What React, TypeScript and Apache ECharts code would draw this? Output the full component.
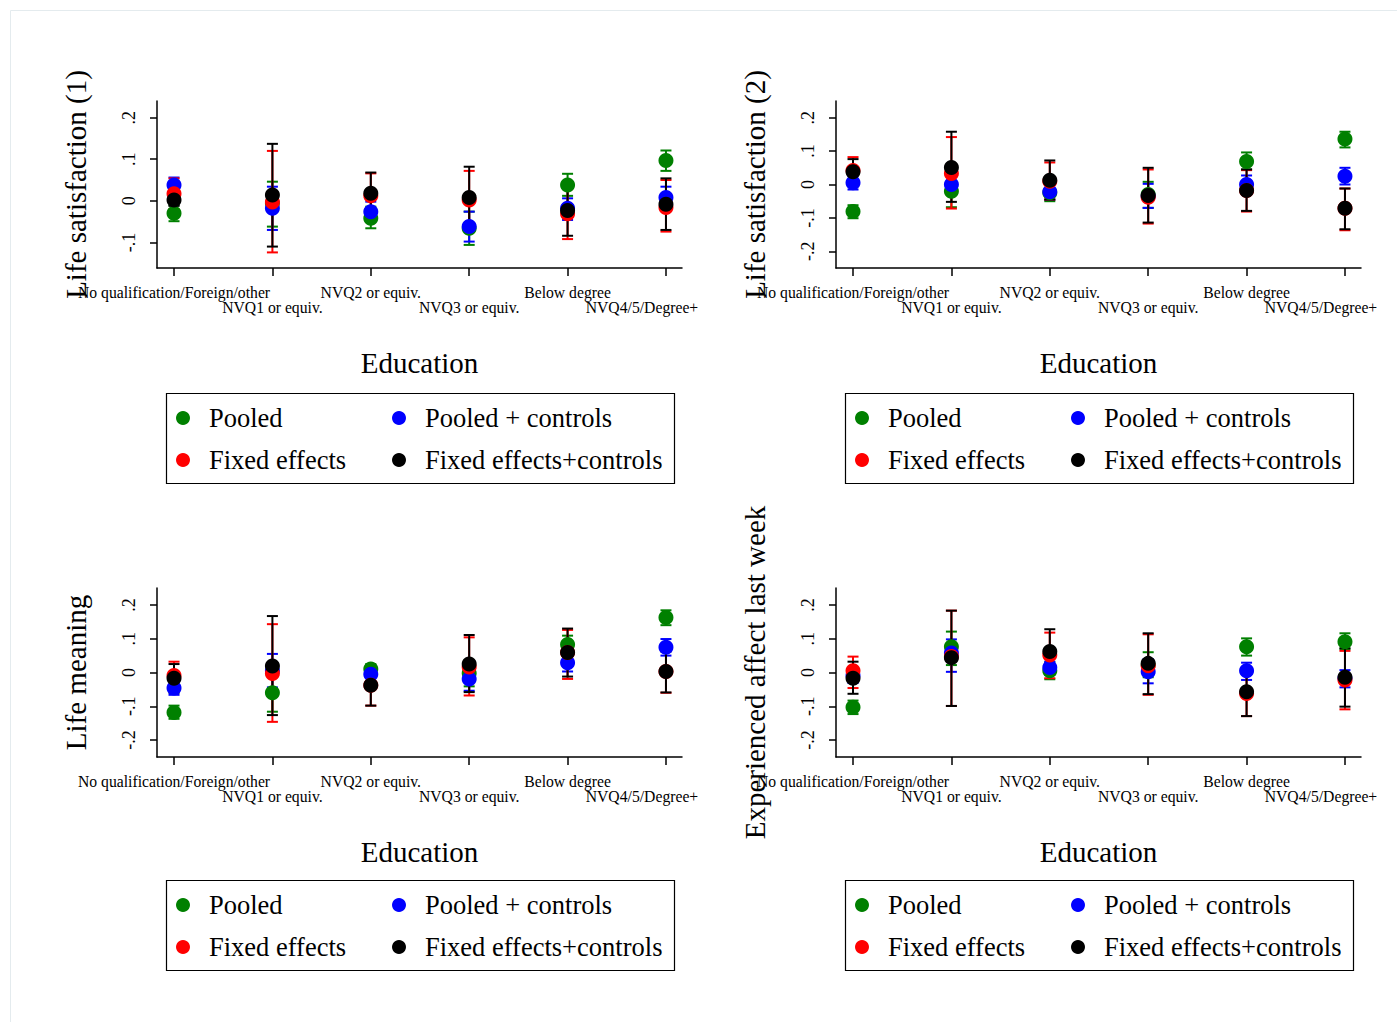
import React, { useEffect, useRef } from "react";
import * as echarts from "echarts";

// ---------- data ----------
const categories = [
  "No qualification/Foreign/other",
  "NVQ1 or equiv.",
  "NVQ2 or equiv.",
  "NVQ3 or equiv.",
  "Below degree",
  "NVQ4/5/Degree+",
];
const modelNames = ["Pooled", "Pooled + controls", "Fixed effects", "Fixed effects+controls"];
const modelColors = ["#008000", "#0000ff", "#ff0000", "#000000"];
const panelTitles = ["Life satisfaction (1)", "Life satisfaction (2)", "Life meaning", "Experienced affect last week"];
const xTitle = "Education";
const yTicksPanel1 = [-0.1, 0, 0.1, 0.2];
const yTicksOther = [-0.2, -0.1, 0, 0.1, 0.2];
const xTicksUpperRow = [0, 2, 4];
const xTicksLowerRow = [1, 3, 5];

// each entry: [estimate, lower CI, upper CI] per education category
const ls1Pooled = [[-0.03, -0.049, -0.011], [-0.006, -0.062, 0.046], [-0.042, -0.066, -0.014], [-0.066, -0.106, -0.026], [0.038, 0.012, 0.065], [0.097, 0.072, 0.121]];
const ls1PooledCtrl = [[0.038, 0.02, 0.056], [-0.018, -0.07, 0.034], [-0.026, -0.05, -0.002], [-0.062, -0.098, -0.026], [-0.018, -0.046, 0.006], [0.008, -0.018, 0.034]];
const ls1FE = [[0.017, -0.02, 0.054], [-0.003, -0.124, 0.12], [0.012, -0.04, 0.066], [0.002, -0.068, 0.072], [-0.031, -0.092, 0.028], [-0.016, -0.074, 0.05]];
const ls1FECtrl = [[0.002, -0.012, 0.016], [0.014, -0.11, 0.137], [0.018, -0.035, 0.068], [0.008, -0.058, 0.082], [-0.023, -0.084, 0.03], [-0.008, -0.07, 0.054]];

const ls2Pooled = [[-0.081, -0.101, -0.062], [-0.02, -0.068, 0.028], [-0.025, -0.05, 0.0], [-0.03, -0.07, 0.008], [0.069, 0.045, 0.096], [0.136, 0.111, 0.158]];
const ls2PooledCtrl = [[0.005, -0.015, 0.025], [0.0, -0.03, 0.03], [-0.022, -0.045, 0.001], [-0.035, -0.07, 0.002], [0.0, -0.027, 0.027], [0.025, 0.0, 0.05]];
const ls2FE = [[0.042, 0.002, 0.082], [0.033, -0.072, 0.142], [0.01, -0.045, 0.066], [-0.038, -0.117, 0.045], [-0.018, -0.081, 0.043], [-0.071, -0.137, -0.012]];
const ls2FECtrl = [[0.038, 0.0, 0.076], [0.051, -0.052, 0.158], [0.013, -0.045, 0.072], [-0.033, -0.114, 0.05], [-0.018, -0.079, 0.045], [-0.071, -0.134, -0.012]];

const meanPooled = [[-0.118, -0.137, -0.098], [-0.06, -0.116, -0.004], [0.01, -0.007, 0.025], [-0.002, -0.041, 0.037], [0.083, 0.058, 0.109], [0.163, 0.14, 0.184]];
const meanPooledCtrl = [[-0.046, -0.066, -0.026], [0.005, -0.044, 0.055], [-0.005, -0.026, 0.02], [-0.019, -0.054, 0.016], [0.029, 0.003, 0.055], [0.075, 0.05, 0.099]];
const meanFE = [[-0.009, -0.05, 0.032], [-0.003, -0.146, 0.143], [-0.038, -0.098, 0.02], [0.016, -0.068, 0.104], [0.059, -0.019, 0.126], [0.003, -0.06, 0.065]];
const meanFECtrl = [[-0.017, -0.06, 0.025], [0.019, -0.126, 0.167], [-0.038, -0.098, 0.02], [0.025, -0.058, 0.111], [0.059, -0.012, 0.13], [0.003, -0.059, 0.062]];

const affPooled = [[-0.103, -0.123, -0.083], [0.076, 0.022, 0.121], [0.005, -0.02, 0.03], [0.022, -0.014, 0.06], [0.076, 0.05, 0.101], [0.091, 0.069, 0.116]];
const affPooledCtrl = [[-0.009, -0.031, 0.013], [0.058, 0.002, 0.098], [0.015, -0.007, 0.032], [0.002, -0.032, 0.04], [0.005, -0.022, 0.029], [-0.017, -0.044, 0.007]];
const affFE = [[0.005, -0.046, 0.047], [0.047, -0.099, 0.183], [0.052, -0.017, 0.118], [0.02, -0.066, 0.113], [-0.062, -0.129, -0.005], [-0.022, -0.109, 0.064]];
const affFECtrl = [[-0.017, -0.063, 0.032], [0.044, -0.099, 0.183], [0.062, -0.005, 0.128], [0.027, -0.064, 0.116], [-0.057, -0.129, 0.01], [-0.014, -0.101, 0.072]];

const panelData = [
  [ls1Pooled, ls1PooledCtrl, ls1FE, ls1FECtrl],
  [ls2Pooled, ls2PooledCtrl, ls2FE, ls2FECtrl],
  [meanPooled, meanPooledCtrl, meanFE, meanFECtrl],
  [affPooled, affPooledCtrl, affFE, affFECtrl],
];

// ---------- layout ----------
const FONT = "'Liberation Serif', 'Times New Roman', serif";
const grids = [
  { left: 157, top: 101, width: 525, height: 167 },
  { left: 836, top: 101, width: 525, height: 167 },
  { left: 157, top: 588, width: 525, height: 169 },
  { left: 836, top: 588, width: 525, height: 169 },
];
const yRanges = [
  [-0.1615, 0.24],
  [-0.25, 0.25],
  [-0.25, 0.25],
  [-0.25, 0.25],
];
const legendBoxes = [
  { x: 166, y: 393 },
  { x: 845, y: 393 },
  { x: 166, y: 880 },
  { x: 845, y: 880 },
];

function fmtY(v: number) {
  const s = parseFloat(v.toFixed(2));
  if (s === 0) return "0";
  return (s < 0 ? "-" : "") + String(Math.abs(s)).replace(/^0/, "");
}

const X_FS = 15.7;

export default function App() {
  const ref = useRef<HTMLDivElement>(null);
  useEffect(() => {
    document.body.style.margin = "0";
    if (!ref.current) return;
    const chart = echarts.init(ref.current, null, { renderer: "svg" });

    const xAxes: any[] = [];
    const yAxes: any[] = [];
    const series: any[] = [];
    const legends: any[] = [];
    const graphics: any[] = [
      {
        type: "rect",
        shape: { x: 10.5, y: 10.5, width: 1400, height: 1030 },
        style: { fill: "none", stroke: "#e4ebee", lineWidth: 1 },
        silent: true,
      },
    ];

    const labelBase = {
      fontSize: X_FS,
      fontFamily: FONT,
      color: "#000",
      verticalAlign: "top",
      hideOverlap: false,
      formatter: (v: number) => {
        const idx = Math.round(v);
        const lab = categories[idx] ?? "";
        return idx === categories.length - 1 ? "{shift|" + lab + "}" : lab;
      },
      rich: {
        shift: { fontSize: X_FS, fontFamily: FONT, color: "#000", padding: [0, 48, 0, 0] },
      },
    };

    grids.forEach((g, i) => {
      const ticks = i === 0 ? yTicksPanel1 : yTicksOther;
      // main x axis: line, ticks, upper-row labels, title
      xAxes.push({
        gridIndex: i,
        type: "value",
        position: "bottom",
        min: -0.173,
        max: 5.163,
        name: xTitle,
        nameLocation: "middle",
        nameGap: 80,
        nameTextStyle: { fontSize: 29, fontFamily: FONT, color: "#000" },
        axisLine: { show: true, onZero: false, lineStyle: { color: "#000", width: 1.5 } },
        axisTick: { show: true, length: 8, customValues: [0, 1, 2, 3, 4, 5], lineStyle: { color: "#000", width: 1.5 } },
        axisLabel: { ...labelBase, customValues: xTicksUpperRow, margin: 16 },
        splitLine: { show: false },
      });
      // companion x axis: lower-row labels only
      xAxes.push({
        gridIndex: i,
        type: "value",
        position: "bottom",
        offset: 0,
        min: -0.173,
        max: 5.163,
        axisLine: { show: false, onZero: false },
        axisTick: { show: false },
        axisLabel: { ...labelBase, customValues: xTicksLowerRow, margin: 31 },
        splitLine: { show: false },
      });
      yAxes.push({
        gridIndex: i,
        type: "value",
        min: yRanges[i][0],
        max: yRanges[i][1],
        name: panelTitles[i],
        nameLocation: "middle",
        nameGap: 67,
        nameRotate: 90,
        nameTextStyle: { fontSize: 29, fontFamily: FONT, color: "#000" },
        axisLine: { show: true, onZero: false, lineStyle: { color: "#000", width: 1.5 } },
        axisTick: { show: true, length: 7, customValues: ticks, lineStyle: { color: "#000", width: 1.5 } },
        axisLabel: {
          customValues: ticks,
          rotate: 90,
          align: "center",
          verticalAlign: "bottom",
          margin: 19,
          fontSize: 18,
          fontFamily: FONT,
          color: "#000",
          formatter: (v: number) => fmtY(v),
        },
        splitLine: { show: false },
      });

      panelData[i].forEach((rows, m) => {
        const color = modelColors[m];
        series.push({
          type: "custom",
          name: modelNames[m] + " CI " + i,
          xAxisIndex: 2 * i,
          yAxisIndex: i,
          silent: true,
          data: rows.map((r, k) => [k, r[1], r[2]]),
          encode: { x: 0, y: [1, 2] },
          renderItem: (params: any, api: any) => {
            const x = api.value(0);
            const pLo = api.coord([x, api.value(1)]);
            const pHi = api.coord([x, api.value(2)]);
            const hw = 5.5;
            const style = { stroke: color, lineWidth: 2, fill: "none" };
            return {
              type: "group",
              children: [
                { type: "line", shape: { x1: pLo[0], y1: pLo[1], x2: pHi[0], y2: pHi[1] }, style },
                { type: "line", shape: { x1: pLo[0] - hw, y1: pLo[1], x2: pLo[0] + hw, y2: pLo[1] }, style },
                { type: "line", shape: { x1: pHi[0] - hw, y1: pHi[1], x2: pHi[0] + hw, y2: pHi[1] }, style },
              ],
            };
          },
        });
        series.push({
          type: "scatter",
          name: modelNames[m],
          xAxisIndex: 2 * i,
          yAxisIndex: i,
          symbol: "circle",
          symbolSize: 15,
          itemStyle: { color, opacity: 1 },
          data: rows.map((r, k) => [k, r[0]]),
        });
      });

      const lb = legendBoxes[i];
      graphics.push({
        type: "rect",
        shape: { x: lb.x + 0.5, y: lb.y + 0.5, width: 508, height: 90 },
        style: { fill: "none", stroke: "#000", lineWidth: 1.2 },
        silent: true,
      });
      const common = {
        orient: "vertical",
        icon: "circle",
        itemWidth: 42,
        itemHeight: 14,
        itemGap: 12,
        padding: 0,
        selectedMode: false,
        textStyle: { fontSize: 26.5, lineHeight: 30, fontFamily: FONT, color: "#000" },
      };
      legends.push({ ...common, left: lb.x + 10, top: lb.y + 10, data: [modelNames[0], modelNames[2]] });
      legends.push({ ...common, left: lb.x + 226, top: lb.y + 10, data: [modelNames[1], modelNames[3]] });
    });

    chart.setOption({
      animation: false,
      backgroundColor: "#fff",
      textStyle: { fontFamily: FONT },
      grid: grids.map((g) => ({ ...g, containLabel: false, outerBoundsMode: "none" })),
      xAxis: xAxes,
      yAxis: yAxes,
      legend: legends,
      series,
      graphic: graphics,
    });
    return () => chart.dispose();
  }, []);
  return <div ref={ref} style={{ width: 1397, height: 1022 }} />;
}
